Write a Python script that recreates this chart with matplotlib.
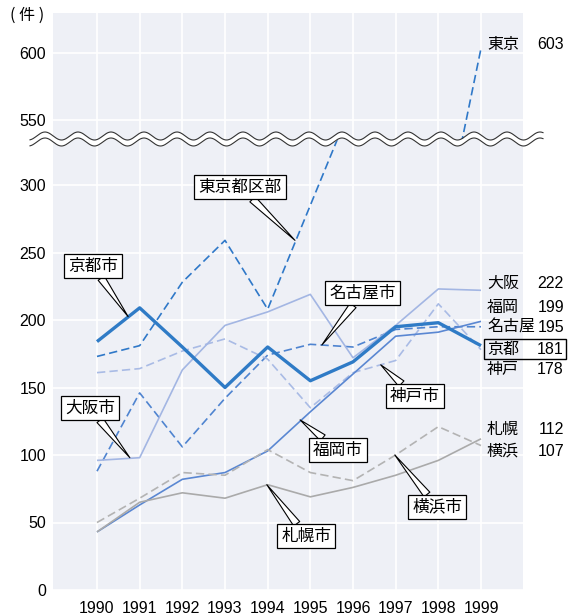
import matplotlib
matplotlib.use("Agg")
import matplotlib.pyplot as plt
from matplotlib.patches import Rectangle
import numpy as np

plt.rcParams['font.family'] = ['Liberation Sans', 'Noto Sans CJK JP']

# ===== DATOS =====
years = [1990, 1991, 1992, 1993, 1994, 1995, 1996, 1997, 1998, 1999]

tokyo = [173, 181, 228, 259, 208, 285, 362, 410, 450, 603]
kyoto = [184, 209, 180, 150, 180, 155, 169, 195, 198, 181]
osaka = [96, 98, 163, 196, 206, 219, 172, 196, 223, 222]
nagoya = [88, 146, 106, 142, 174, 182, 180, 193, 195, 195]
kobe = [161, 164, 177, 186, 171, 135, 161, 170, 212, 178]
fukuoka = [43, 63, 82, 87, 103, 132, 160, 188, 191, 199]
sapporo = [43, 65, 72, 68, 78, 69, 76, 85, 96, 112]
yokohama = [50, 68, 87, 85, 104, 87, 81, 100, 121, 107]

end_names = ["大阪", "福岡", "名古屋", "京都", "神戸", "札幌", "横浜"]
end_values = [222, 199, 195, 181, 178, 112, 107]

# ===== ESTILOS =====
styles = [
    (tokyo, dict(color="#2f78c8", lw=1.2, dashes=(5, 2.5))),
    (nagoya, dict(color="#4f84d0", lw=1.2, dashes=(5, 2.5))),
    (kobe, dict(color="#a9bbe5", lw=1.2, dashes=(5, 2.5))),
    (osaka, dict(color="#a3b6e3", lw=1.2)),
    (fukuoka, dict(color="#5a87d2", lw=1.2)),
    (yokohama, dict(color="#b3b3b3", lw=1.2, dashes=(5, 2.5))),
    (sapporo, dict(color="#aaaaaa", lw=1.2)),
    (kyoto, dict(color="#2f7bc6", lw=2.4)),
]

W, H = 574, 616
fig = plt.figure(figsize=(W / 100, H / 100), dpi=100)

bg = "#eef0f6"
px = 1.35  # pixeles por unidad
seam = 139
ax_lo = fig.add_axes([53 / W, (H - 590) / H, 470 / W, (590 - seam) / H])
ax_hi = fig.add_axes([53 / W, (H - seam) / H, 470 / W, (seam - 13) / H])

xlim = (1990 - 44 / 42.67, 1999 + 42 / 42.67)
hi_bottom = 550 - (seam - 120) / px

for ax in (ax_lo, ax_hi):
    ax.set_facecolor(bg)
    for s in ax.spines.values():
        s.set_visible(False)
    ax.grid(True, color="white", lw=1.2)
    ax.set_axisbelow(True)
    ax.set_xlim(*xlim)
    ax.set_xticks(years)
    ax.tick_params(length=0, labelsize=11.5, colors="black")
    for data, kw in styles:
        ax.plot(years, data, solid_capstyle="butt", **kw)

ax_lo.set_ylim(0, (590 - seam) / px)
ax_lo.set_yticks([0, 50, 100, 150, 200, 250, 300])
ax_lo.tick_params(axis="y", pad=5)
ax_lo.tick_params(axis="x", pad=8)

ax_hi.set_ylim(hi_bottom, hi_bottom + (seam - 13) / px)
ax_hi.set_yticks([550, 600])
ax_hi.tick_params(axis="y", pad=5)
ax_hi.tick_params(axis="x", labelbottom=False)

# ===== ETIQUETAS FINALES =====
name_x = 1990 + (487 - 97) / 42.67
val_x = 1990 + (564 - 97) / 42.67
label_y = [226.7, 209.6, 194.8, 178.5, 163, 119, 102.9]
for name, val, y in zip(end_names, end_values, label_y):
    ax_lo.text(name_x, y, name, fontsize=11.5, va="center", ha="left", clip_on=False)
    ax_lo.text(val_x, y, str(val), fontsize=11.5, va="center", ha="right", clip_on=False)

ax_hi.text(name_x, 606, "東京", fontsize=11.5, va="center", ha="left", clip_on=False)
ax_hi.text(val_x, 606, str(tokyo[-1]), fontsize=11.5, va="center", ha="right", clip_on=False)

x0 = 1990 + (484 - 97) / 42.67
x1 = 1990 + (566 - 97) / 42.67
ax_lo.add_patch(Rectangle((x0, (590 - 359) / px), x1 - x0, 20 / px,
                          fc="none", ec="black", lw=1.0, clip_on=False, zorder=5))

# ===== ANOTACIONES =====
callouts = [
    ("東京都区部", (1994.64, 259), (1993.35, 298.5)),
    ("京都市", (1990.73, 202.5), (1989.9, 240)),
    ("名古屋市", (1995.27, 181.5), (1996.23, 220)),
    ("大阪市", (1990.77, 98), (1989.84, 134.8)),
    ("神戸市", (1996.65, 166.8), (1997.45, 143.7)),
    ("福岡市", (1994.76, 126), (1995.65, 103.7)),
    ("横浜市", (1996.98, 100), (1997.97, 61.5)),
    ("札幌市", (1993.98, 78), (1994.9, 40)),
]
for txt, tip, pos in callouts:
    ax_lo.annotate(
        txt, xy=tip, xytext=pos, fontsize=12, ha="center", va="center",
        bbox=dict(boxstyle="square,pad=0.25", fc="white", ec="black", lw=0.9),
        arrowprops=dict(arrowstyle="wedge,tail_width=0.45", fc="white",
                        ec="black", lw=0.8, shrinkA=0, shrinkB=0),
        zorder=6,
    )

fig.text(10 / W, 1 - 15 / H, "( 件 )", fontsize=11.5, va="center", ha="left",
         family=["Noto Sans CJK JP"])

# ===== CORTE ONDULADO =====
ov = fig.add_axes([0, 0, 1, 1])
ov.set_xlim(0, W)
ov.set_ylim(H, 0)
ov.axis("off")
xw = np.linspace(30, 543, 1000)
phase = np.cos(2 * np.pi * (xw - 45) / 33)
y_top = seam - 3 - 4 * phase
y_bot = seam + 3 - 4 * phase
ov.fill_between(xw, y_top, y_bot, color="white", lw=0)
ov.plot(xw, y_top, color="#333333", lw=0.8)
ov.plot(xw, y_bot, color="#333333", lw=0.8)

fig.savefig("out.png", dpi=100)
